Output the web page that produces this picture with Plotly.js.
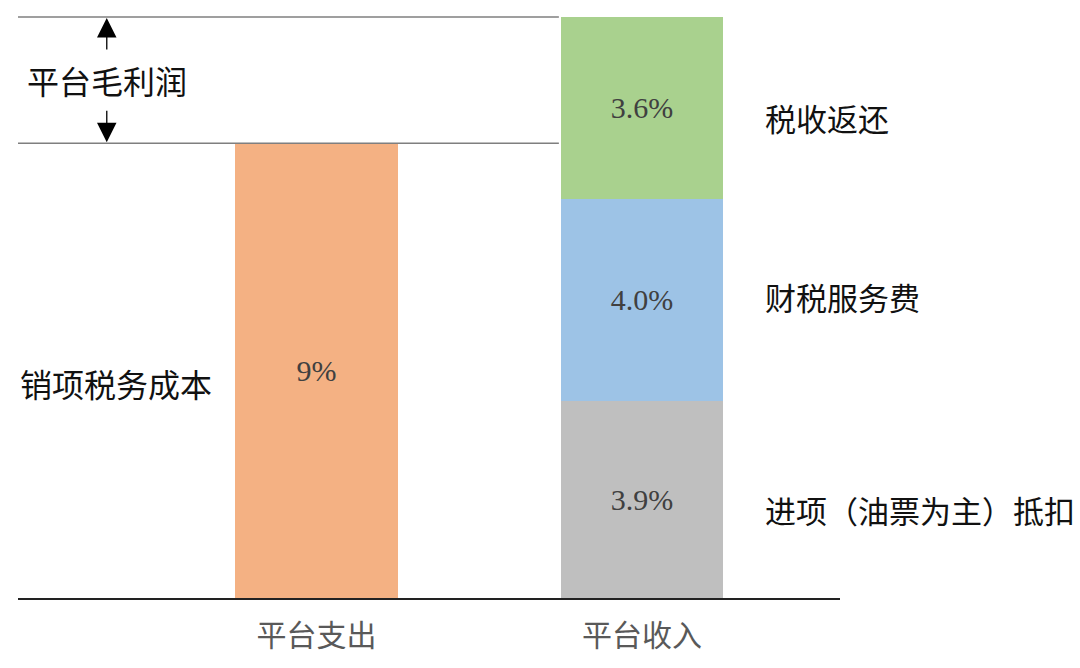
<!DOCTYPE html>
<html>
<head>
<meta charset="utf-8">
<script src="https://cdn.plot.ly/plotly-3.0.1.min.js"></script>
<style>html,body{margin:0;padding:0;background:#fff;}#chart{width:1080px;height:668px;}</style>
</head>
<body>
<div id="chart"></div>
<script>
// ---- data ----
const categories = ['平台支出', '平台收入'];
const expenseName = '销项税务成本';
const expenseValue = 9;
const incomeNames = ['进项（油票为主）抵扣', '财税服务费', '税收返还'];
const incomeValues = [3.9, 4.0, 3.6];
const profitLabel = '平台毛利润';

const incomeColors = ['#BFBFBF', '#9DC3E6', '#A9D18E'];
const CJK = '"Noto Sans CJK SC", "Noto Sans", sans-serif';
const NUM = '"Liberation Serif", "DejaVu Serif", serif';

const traces = [{
  type: 'bar', x: [categories[0]], y: [expenseValue], width: 0.5,
  marker: {color: '#F4B183'}, name: expenseName,
  texttemplate: '%{y}%', textposition: 'inside', insidetextanchor: 'middle',
  textfont: {family: NUM, size: 30, color: '#404040'}, hoverinfo: 'skip'
}];
incomeValues.forEach((v, i) => {
  traces.push({
    type: 'bar', x: [categories[1]], y: [v], width: 0.5,
    marker: {color: incomeColors[i]}, name: incomeNames[i],
    texttemplate: '%{y:.1f}%', textposition: 'inside', insidetextanchor: 'middle',
    textfont: {family: NUM, size: 30, color: '#404040'}, hoverinfo: 'skip'
  });
});

const totalIncome = incomeValues.reduce((a, b) => a + b, 0);
const annotations = [];
// right-side labels for income segments
let cum = 0;
const shifts = [-10, 3, -10];
incomeValues.forEach((v, i) => {
  annotations.push({
    xref: 'paper', yref: 'y', x: 0.906, y: cum + v / 2, yshift: shifts[i],
    text: incomeNames[i], showarrow: false, xanchor: 'left', yanchor: 'middle',
    font: {family: CJK, size: 31, color: '#111'}
  });
  cum += v;
});
// left label for expense
annotations.push({
  xref: 'paper', yref: 'y', x: 0, y: expenseValue / 2, yshift: -12,
  text: expenseName, showarrow: false, xanchor: 'left', yanchor: 'middle',
  font: {family: CJK, size: 32, color: '#111'}
});
// profit label
annotations.push({
  xref: 'paper', yref: 'y', x: 0.008, y: (expenseValue + totalIncome) / 2,
  text: profitLabel, showarrow: false, xanchor: 'left', yanchor: 'middle',
  font: {family: CJK, size: 32, color: '#111'}
});
// arrows
annotations.push({
  xref: 'paper', yref: 'y', x: 0.108, y: totalIncome, ax: 0, ay: 34, text: '',
  showarrow: true, arrowhead: 2, arrowsize: 3, arrowwidth: 1.3, arrowcolor: '#000', standoff: 1
});
annotations.push({
  xref: 'paper', yref: 'y', x: 0.108, y: expenseValue, ax: 0, ay: -34, text: '',
  showarrow: true, arrowhead: 2, arrowsize: 3, arrowwidth: 1.3, arrowcolor: '#000', standoff: 1
});

const shapes = [totalIncome, expenseValue].map(v => ({
  type: 'line', xref: 'paper', yref: 'y', x0: 0, x1: 0.658, y0: v, y1: v,
  line: {color: '#7f7f7f', width: 1.5}
}));

const layout = {
  width: 1080, height: 668,
  margin: {l: 18, r: 240, t: 14, b: 70},
  paper_bgcolor: '#fff', plot_bgcolor: '#fff',
  barmode: 'stack', showlegend: false,
  xaxis: {
    type: 'category', range: [-0.917, 1.608], showline: true, linecolor: '#222', linewidth: 2,
    ticks: '', showgrid: false, zeroline: false, ticklabelstandoff: 10,
    tickfont: {family: CJK, size: 30, color: '#595959'}
  },
  yaxis: {range: [0, 11.56], visible: false, fixedrange: true},
  annotations: annotations,
  shapes: shapes
};

Plotly.newPlot('chart', traces, layout, {staticPlot: true, displayModeBar: false});
</script>
</body>
</html>
